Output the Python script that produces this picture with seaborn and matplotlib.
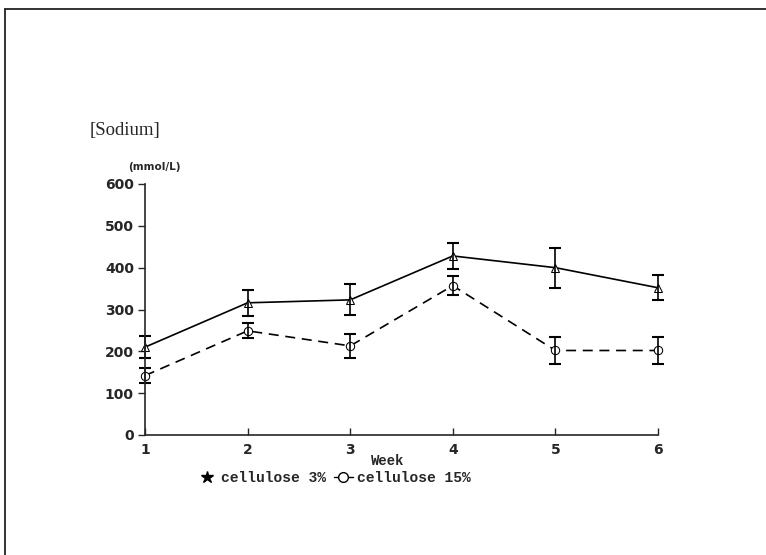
import matplotlib
matplotlib.use("Agg")
import matplotlib.pyplot as plt
import seaborn as sns
import pandas as pd
from matplotlib.lines import Line2D

weeks = [1, 2, 3, 4, 5, 6]
cell3 = [210, 316, 323, 428, 400, 352]
cell3_err = [27, 31, 37, 30, 48, 30]
cell15 = [142, 249, 213, 357, 202, 202]
cell15_err = [18, 18, 28, 22, 33, 32]
yticks = [0, 100, 200, 300, 400, 500, 600]
labels = ["cellulose 3%", "cellulose 15%"]

sns.set_theme(style="ticks")
plt.rcParams['font.family'] = ['DejaVu Sans']

df = pd.DataFrame({
    "Week": weeks * 2,
    "Sodium": cell3 + cell15,
    "Group": [labels[0]] * 6 + [labels[1]] * 6,
})

fig = plt.figure(figsize=(7.66, 5.55), dpi=100)
# scan border: top and left edges only
fig.add_artist(Line2D([5 / 766, 5 / 766], [0, 1 - 9 / 555], color="#222222",
                      linewidth=1.3, transform=fig.transFigure))
fig.add_artist(Line2D([5 / 766, 1], [1 - 9 / 555, 1 - 9 / 555], color="#222222",
                      linewidth=1.3, transform=fig.transFigure))

ax = fig.add_axes([145 / 766, 1 - 435 / 555, (658 - 145) / 766, (435 - 184) / 555])

sns.lineplot(data=df, x="Week", y="Sodium", hue="Group", style="Group",
             palette=["black", "black"], dashes={labels[0]: "", labels[1]: (6, 4)},
             markers={labels[0]: "^", labels[1]: "o"}, markersize=6,
             markerfacecolor="white", markeredgecolor="black", linewidth=1.2,
             legend=False, ax=ax)
for s in ax.lines:
    s.set_clip_on(False)

ax.errorbar(weeks, cell3, yerr=cell3_err, fmt="none", ecolor="black",
            elinewidth=1.2, capsize=4, capthick=1.5, clip_on=False)
ax.errorbar(weeks, cell15, yerr=cell15_err, fmt="none", ecolor="black",
            elinewidth=1.2, capsize=4, capthick=1.5, clip_on=False)

ax.set_xlim(1, 6)
ax.set_ylim(0, 600)
ax.set_yticks(yticks)
ax.set_xticks(weeks)
ax.tick_params(axis="x", direction="in", length=5, width=1, pad=6)
ax.tick_params(axis="y", direction="out", length=5, width=1, pad=3)
for lab in ax.get_xticklabels() + ax.get_yticklabels():
    lab.set_fontweight("bold")
    lab.set_fontsize(10)
sns.despine(ax=ax)
ax.spines["left"].set_linewidth(1.2)
ax.spines["bottom"].set_linewidth(1.2)
ax.set_xlabel("")
ax.set_ylabel("")

fig.text(90 / 766, 1 - 131 / 555, "[Sodium]", family="Liberation Serif",
         fontsize=13.5, va="center", ha="left")
fig.text(128 / 766, 1 - 167 / 555, "(mmol/L)", fontsize=7.5, fontweight="bold",
         va="center", ha="left")
fig.text(388 / 766, 1 - 461 / 555, "Week", family="Liberation Mono",
         fontsize=10, fontweight="bold", va="center", ha="center")

handles = [
    Line2D([], [], color="black", marker="*", linestyle="", markersize=9),
    Line2D([], [], color="black", marker="o", markerfacecolor="white",
           linestyle="-", markersize=7, linewidth=1),
]
leg = fig.legend(handles, labels, loc="center left",
                 bbox_to_anchor=(198 / 766, 1 - 478 / 555), ncol=2,
                 frameon=False, handlelength=1.3, handletextpad=0.3,
                 columnspacing=0.5, borderaxespad=0, borderpad=0,
                 prop={"family": "Liberation Mono", "weight": "bold", "size": 10.5})

fig.savefig("out.png", dpi=100)
